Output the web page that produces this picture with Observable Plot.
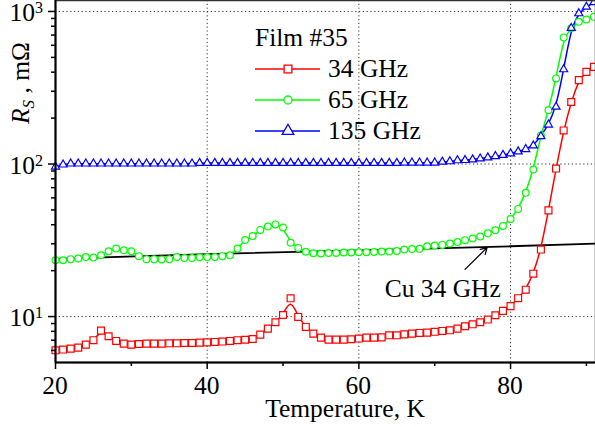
<!DOCTYPE html>
<html><head><meta charset="utf-8">
<script src="https://cdn.jsdelivr.net/npm/d3@7"></script>
<script src="https://cdn.jsdelivr.net/npm/@observablehq/plot@0.6"></script>
<style>
body{margin:0;background:#fff;}
#wrap{position:relative;width:595px;height:427px;overflow:hidden;}
</style></head><body><div id="wrap"></div>
<script>
const temps = [20,21,22,23,24,25,26,27,28,29,30,31,32,33,34,35,36,37,38,39,40,41,42,43,44,45,46,47,48,49,50,51,52,53,54,55,56,57,58,59,60,61,62,63,64,65,66,67,68,69,70,71,72,73,74,75,76,77,78,79,80,81,82,83,84,85,86,87,88,89,90,91];
const rs34 = [6.01,6.08,6.17,6.26,6.55,7.0,8.09,7.43,6.92,6.65,
  6.55,6.61,6.65,6.65,6.65,6.68,6.68,6.71,6.71,6.75,
  6.78,6.82,6.86,6.92,7.0,7.05,7.13,7.62,8.34,9.18,
  10.24,13.18,9.94,8.55,7.73,7.28,7.06,7.06,7.06,7.10,
  7.18,7.28,7.28,7.30,7.54,7.54,7.65,7.73,7.81,7.85,
  7.95,8.05,8.13,8.34,8.64,8.90,9.18,9.56,10.2,10.9,
  11.7,13.2,15.0,19.1,27.5,49.7,93.4,166,255,355,
  402,433];
const rs65 = [23.4,23.4,23.8,24.0,24.6,24.4,25.2,26.8,27.9,27.2,
  26.8,24.9,23.8,23.8,23.7,23.8,24.6,24.2,24.2,24.5,
  24.6,24.6,24.9,25.2,27.9,31.8,33.7,37.0,38.9,40.2,
  38.4,30.5,28.2,26.6,26.0,25.9,26.1,26.1,26.3,26.3,
  26.4,26.4,26.5,26.7,26.7,26.9,27.5,27.7,27.8,28.9,
  29.2,29.5,30.1,30.8,31.7,32.5,33.5,35.2,36.8,39.3,
  43.6,50.8,64.7,92.1,154,225,364,676,777,855,
  885,922];
const rs135 = [96,99,100.5,100.5,100.5,100.5,100.5,100.5,100.5,100.5,
  100.5,100.5,100.5,100.5,100.5,100.5,100.5,100.5,100.5,101.5,
  101.5,101.5,101.5,101.5,101.5,101.5,101.5,101.5,101.5,101.5,
  101.5,101.5,101.5,101.5,101.5,101.5,101.5,101.5,101.5,101.5,
  101.5,101.5,101.5,101.5,101.5,101.5,102,102,102,102,
  102,103.4,104,105.6,106,107,108.5,110.3,112.5,114.6,
  117.2,120.7,125,132,152,181,237,417,778,971,
  1072,1148];
const cuTemps = [20,40,60,80,91.2];
const cuRs = [23.9,25.7,27.2,28.9,30.1];

const seriesNames = ["34 GHz","65 GHz","135 GHz"];
const seriesColors = ["#ff0000","#00ff00","#0000ff"];
const seriesSymbols = ["square","circle","triangle"];
const seriesRadius = [3.9,3.4,3.0];
const legendTitle = "Film #35";

const xTicks = [20,40,60,80];
const xMinor = [30,50,70,90];
const yTicks = [10,100,1000];
const yTickExponents = ["1","2","3"];
const yMinor = [6,7,8,9,20,30,40,50,60,70,80,90,200,300,400,500,600,700,800,900];
const xLabel = "Temperature, K";
const cuLabel = "Cu 34 GHz";
const cuLabelAt = {T:63.4, R:15.3};
const cuArrowAt = {T1:74.0, R1:20.4, T2:76.9, R2:28.3};

const seriesValues = [rs34, rs65, rs135];
const rows = [];
seriesNames.forEach((s,i)=>temps.forEach((t,j)=>rows.push({series:s, T:t, R:seriesValues[i][j]})));
const cuRows = cuTemps.map((t,i)=>({T:t, R:cuRs[i]}));

const font = "Liberation Serif";
const fs = 25.5;
const grid = {stroke:"#333", strokeWidth:1, strokeDasharray:"1.2,2.6"};

const plot = Plot.plot({
  width:595, height:427,
  marginLeft:55, marginRight:0, marginTop:0, marginBottom:65,
  style:{fontFamily:font, fontSize:fs+"px", background:"white", color:"black", overflow:"visible"},
  x:{domain:[20,91.2]},
  y:{type:"log", domain:[5,1180]},
  color:{domain:seriesNames, range:seriesColors},
  marks:[
    Plot.ruleX([40,60,80], grid),
    Plot.ruleY(yTicks, grid),
    Plot.line(cuRows, {x:"T", y:"R", stroke:"black", strokeWidth:1.8}),
    Plot.line(rows, {x:"T", y:"R", z:"series", stroke:"series", strokeWidth:1.5, curve:"basis"}),
    ...seriesNames.map((s,i)=>Plot.dot(rows.filter(d=>d.series===s), {x:"T", y:"R", symbol:seriesSymbols[i], r:seriesRadius[i], stroke:seriesColors[i], fill:"white", strokeWidth:1.2})),
    Plot.text([cuLabel], {x:cuLabelAt.T, y:cuLabelAt.R, text:d=>d, textAnchor:"start", fontSize:fs, fill:"black"}),
    Plot.arrow([cuArrowAt], {x1:"T1", y1:"R1", x2:"T2", y2:"R2", stroke:"black", strokeWidth:1.3, headLength:8}),
    Plot.frame({stroke:"#333", strokeWidth:1.5}),
    Plot.ruleX([20], {stroke:"black", strokeWidth:2}),
    Plot.ruleY([5], {stroke:"black", strokeWidth:2}),
    Plot.axisX(xTicks, {tickSize:7, strokeWidth:1.5, text:null, label:null}),
    Plot.axisX(xMinor, {tickSize:4, strokeWidth:1.5, text:null, label:null}),
    Plot.axisY(yTicks, {tickSize:7, strokeWidth:1.5, text:null, label:null}),
    Plot.axisY(yMinor, {tickSize:4, strokeWidth:1.5, text:null, label:null})
  ]
});
document.getElementById("wrap").appendChild(plot);

const sx = plot.scale("x"), sy = plot.scale("y");
const svg = d3.select(plot);
const tl = svg.append("g").attr("font-family",font).attr("font-size",fs).attr("fill","black");
xTicks.forEach(v=>{
  tl.append("text").attr("x", sx.apply(v)).attr("y", 394).attr("text-anchor","middle").text(String(v));
});
yTicks.forEach((v,i)=>{
  const t = tl.append("text").attr("x", 43).attr("y", sy.apply(v)+10).attr("text-anchor","end");
  t.append("tspan").text("10");
  t.append("tspan").attr("font-size",16).attr("dy",-8).text(yTickExponents[i]);
});
svg.append("text").attr("x",345).attr("y",417).attr("text-anchor","middle")
  .attr("font-family",font).attr("font-size",fs).attr("fill","black").text(xLabel);
const yl = svg.append("text").attr("transform","translate(29,83) rotate(-90)")
  .attr("text-anchor","middle").attr("font-family",font).attr("font-size",fs).attr("fill","black");
yl.append("tspan").attr("font-style","italic").text("R");
yl.append("tspan").attr("font-style","italic").attr("font-size",17).attr("dy",5).text("S");
yl.append("tspan").attr("dy",-5).text(" , mΩ");

const lg = svg.append("g").attr("font-family",font).attr("font-size",fs).attr("text-anchor","start");
lg.append("text").attr("x",255).attr("y",46).attr("fill","black").text(legendTitle);
const legSizes = [60, 50, 59];
seriesNames.forEach((s,i)=>{
  const y = 69 + i*31;
  lg.append("line").attr("x1",255).attr("x2",320).attr("y1",y).attr("y2",y)
    .attr("stroke",seriesColors[i]).attr("stroke-width",1.5);
  const sym = [d3.symbolSquare, d3.symbolCircle, d3.symbolTriangle][i];
  lg.append("path").attr("d", d3.symbol(sym, legSizes[i])())
    .attr("transform",`translate(288,${y})`).attr("fill","white")
    .attr("stroke",seriesColors[i]).attr("stroke-width",1.3);
  lg.append("text").attr("x",328).attr("y",y+8).attr("fill","black").text(s);
});
</script></body></html>
